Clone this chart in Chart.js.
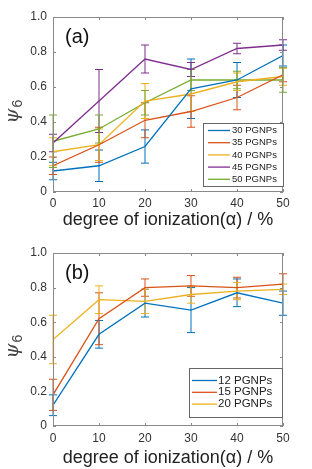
<!DOCTYPE html>
<html>
<head>
<meta charset="utf-8">
<script src="https://cdn.jsdelivr.net/npm/chart.js@4.4.1/dist/chart.umd.min.js"></script>
<style>
  html, body { margin: 0; padding: 0; background: #fff; }
  #wrap { width: 312px; height: 469px; position: relative; }
  .panel { position: absolute; left: 0; width: 312px; }
</style>
</head>
<body>
<div id="wrap">
  <div class="panel" style="top:0;height:232px"><canvas id="chartA" width="312" height="232"></canvas></div>
  <div class="panel" style="top:232px;height:237px"><canvas id="chartB" width="312" height="237"></canvas></div>
</div>
<script>
// degree of ionization (alpha, %) — shared x values
const ALPHA = [0, 10, 20, 30, 40, 50];
const Y_TICKS = [0, 0.2, 0.4, 0.6, 0.8, 1];

// ── panel (a) ─────────────────────────────────────────
const labelsA = ['30 PGNPs', '35 PGNPs', '40 PGNPs', '45 PGNPs', '50 PGNPs'];
const psiA30 = [0.12, 0.15, 0.26, 0.59, 0.64, 0.78];
const errA30 = [0.05, 0.09, 0.095, 0.17, 0.10, 0.06];
const psiA35 = [0.15, 0.27, 0.41, 0.46, 0.54, 0.67];
const errA35 = [0.05, 0.10, 0.10, 0.09, 0.07, 0.04];
const psiA40 = [0.23, 0.27, 0.52, 0.56, 0.63, 0.66];
const errA40 = [0.08, 0.09, 0.10, 0.10, 0.05, 0.05];
const psiA45 = [0.28, 0.52, 0.76, 0.70, 0.82, 0.84];
const errA45 = [0.05, 0.18, 0.08, 0.04, 0.03, 0.03];
const psiA50 = [0.29, 0.36, 0.51, 0.64, 0.64, 0.64];
const errA50 = [0.15, 0.08, 0.07, 0.06, 0.05, 0.07];

// ── panel (b) ─────────────────────────────────────────
const labelsB = ['12 PGNPs', '15 PGNPs', '20 PGNPs'];
const psiB12 = [0.12, 0.53, 0.71, 0.67, 0.77, 0.71];
const errB12 = [0.06, 0.08, 0.08, 0.13, 0.08, 0.07];
const psiB15 = [0.18, 0.62, 0.80, 0.81, 0.80, 0.82];
const errB15 = [0.09, 0.15, 0.05, 0.06, 0.06, 0.06];
const psiB20 = [0.50, 0.73, 0.72, 0.76, 0.78, 0.79];
const errB20 = [0.14, 0.08, 0.07, 0.05, 0.05, 0.03];

// MATLAB default line order
const COLORS = ['#0072BD', '#D95319', '#EDB120', '#7E2F8E', '#77AC30'];
const FONT = "'Liberation Sans', Arial, sans-serif";

function makeSet(label, values, errs, color) {
  return {
    label,
    data: values.map((v, i) => ({ x: ALPHA[i], y: v })),
    errorBars: errs,
    borderColor: color,
    backgroundColor: color,
    borderWidth: 1.3,
    pointRadius: 0,
    tension: 0
  };
}

// error bars, MATLAB-style box with inward ticks, panel tag, psi_6 label, inset legend
const matlabLook = {
  id: 'matlabLook',
  beforeDatasetsDraw(chart) {
    const { ctx, scales: { x, y } } = chart;
    ctx.save();
    ctx.lineWidth = 1;
    chart.data.datasets.forEach(ds => {
      ctx.strokeStyle = ds.borderColor;
      ds.data.forEach((p, i) => {
        const e = ds.errorBars[i];
        const px = x.getPixelForValue(p.x);
        const lo = y.getPixelForValue(p.y - e);
        const hi = y.getPixelForValue(p.y + e);
        ctx.beginPath();
        ctx.moveTo(px, lo); ctx.lineTo(px, hi);
        ctx.moveTo(px - 4, lo); ctx.lineTo(px + 4, lo);
        ctx.moveTo(px - 4, hi); ctx.lineTo(px + 4, hi);
        ctx.stroke();
      });
    });
    ctx.restore();
  },
  afterDraw(chart, args, opts) {
    const { ctx, chartArea: a, scales: { x, y } } = chart;
    ctx.save();

    // box + inward ticks
    ctx.strokeStyle = '#8a8a8a';
    ctx.lineWidth = 1;
    ctx.strokeRect(a.left + 0.5, a.top + 0.5, a.right - a.left - 1, a.bottom - a.top - 1);
    ctx.beginPath();
    x.ticks.forEach(t => {
      const px = Math.round(x.getPixelForValue(t.value)) + 0.5;
      ctx.moveTo(px, a.bottom); ctx.lineTo(px, a.bottom - 3);
      ctx.moveTo(px, a.top); ctx.lineTo(px, a.top + 3);
    });
    y.ticks.forEach(t => {
      const py = Math.round(y.getPixelForValue(t.value)) + 0.5;
      ctx.moveTo(a.left, py); ctx.lineTo(a.left + 3, py);
      ctx.moveTo(a.right, py); ctx.lineTo(a.right - 3, py);
    });
    ctx.stroke();

    // panel tag
    ctx.fillStyle = '#111';
    ctx.font = '20px ' + FONT;
    ctx.textBaseline = 'middle';
    ctx.textAlign = 'left';
    ctx.fillText(opts.tag, a.left + 12, a.top + 20);

    // psi_6 axis title
    const cy = (a.top + a.bottom) / 2;
    ctx.save();
    ctx.translate(14, cy + 4);
    ctx.rotate(-Math.PI / 2);
    ctx.fillStyle = '#444';
    ctx.font = 'italic 19px "DejaVu Serif", serif';
    ctx.textAlign = 'right';
    ctx.textBaseline = 'alphabetic';
    ctx.fillText('\u03C8', 0, 4);
    ctx.font = '14px ' + FONT;
    ctx.textAlign = 'left';
    ctx.fillText('6', 1, 8);
    ctx.restore();

    // legend inset
    const L = opts.legend;
    ctx.fillStyle = '#fff';
    ctx.fillRect(L.x, L.y, L.w, L.h);
    ctx.strokeStyle = '#666';
    ctx.strokeRect(L.x + 0.5, L.y + 0.5, L.w, L.h);
    ctx.font = L.size + 'px ' + FONT;
    ctx.textBaseline = 'middle';
    chart.data.datasets.forEach((ds, i) => {
      const ry = L.y + L.first + i * L.row;
      ctx.strokeStyle = ds.borderColor;
      ctx.lineWidth = 1.3;
      ctx.beginPath();
      ctx.moveTo(L.x + L.lx0, ry); ctx.lineTo(L.x + L.lx1, ry);
      ctx.stroke();
      ctx.fillStyle = '#222';
      ctx.fillText(ds.label, L.x + L.tx, ry);
    });
    ctx.restore();
  }
};

function buildOptions(pad, xHeight, titlePadBottom, tickPad, tag, legend) {
  return {
    responsive: false,
    animation: false,
    layout: { padding: { top: pad, right: 29, left: 0, bottom: 0 } },
    plugins: {
      legend: { display: false },
      tooltip: { enabled: false },
      matlabLook: { tag, legend }
    },
    scales: {
      x: {
        type: 'linear', min: 0, max: 50,
        grid: { display: false, drawTicks: false },
        border: { display: false },
        ticks: { stepSize: 10, padding: tickPad, color: '#333', font: { family: FONT, size: 12 } },
        title: {
          display: true, text: 'degree of ionization(\u03B1) / %', color: '#222',
          font: { family: FONT, size: 18 }, padding: { top: 0, bottom: titlePadBottom }
        },
        afterFit: s => { s.height = xHeight; }
      },
      y: {
        type: 'linear', min: 0, max: 1,
        grid: { display: false, drawTicks: false },
        border: { display: false },
        afterBuildTicks: s => { s.ticks = Y_TICKS.map(v => ({ value: v })); },
        ticks: { padding: 6, color: '#333', font: { family: FONT, size: 12 } },
        afterFit: s => { s.width = 53; }
      }
    }
  };
}

new Chart(document.getElementById('chartA'), {
  type: 'line',
  data: {
    datasets: [
      makeSet(labelsA[0], psiA30, errA30, COLORS[0]),
      makeSet(labelsA[1], psiA35, errA35, COLORS[1]),
      makeSet(labelsA[2], psiA40, errA40, COLORS[2]),
      makeSet(labelsA[3], psiA45, errA45, COLORS[3]),
      makeSet(labelsA[4], psiA50, errA50, COLORS[4])
    ]
  },
  options: buildOptions(17, 40, 1, 4, '(a)',
    { x: 203, y: 123, w: 80, h: 63, size: 9.5, first: 7.5, row: 12.2, lx0: 5, lx1: 27, tx: 29 }),
  plugins: [matlabLook]
});

new Chart(document.getElementById('chartB'), {
  type: 'line',
  data: {
    datasets: [
      makeSet(labelsB[0], psiB12, errB12, COLORS[0]),
      makeSet(labelsB[1], psiB15, errB15, COLORS[1]),
      makeSet(labelsB[2], psiB20, errB20, COLORS[2])
    ]
  },
  options: buildOptions(21, 43, 0, 5, '(b)',
    { x: 189, y: 136, w: 93, h: 49, size: 11.5, first: 12.5, row: 11.8, lx0: 3, lx1: 28, tx: 29 }),
  plugins: [matlabLook]
});
</script>
</body>
</html>
